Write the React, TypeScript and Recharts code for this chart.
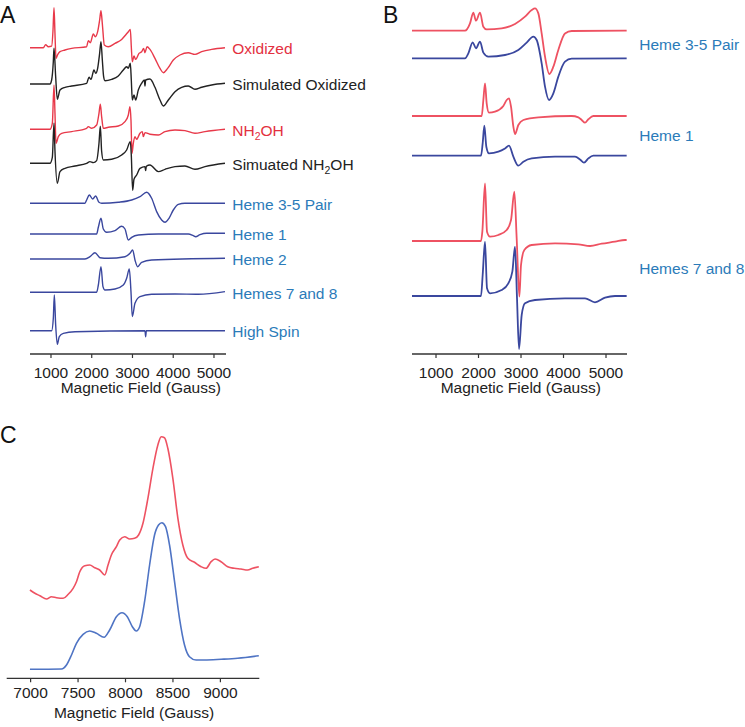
import React from 'react';
import { LineChart, Line, XAxis, YAxis } from 'recharts';

type Pt = [number, number];

const FONT = '"Liberation Sans", Arial, Helvetica, sans-serif';

// ---------- tick labels ----------
const ticksAB = [1000, 2000, 3000, 4000, 5000];
const ticksC = [7000, 7500, 8000, 8500, 9000];
const axisTitle = 'Magnetic Field (Gauss)';

// ---------- Panel A spectra (field G, intensity relative to baseline) ----------
const oxidized: Pt[] = [[485,0],[812,0],[869,3],[934,1],[1016,1.5],[1049,17],[1074,40],[1098,14],[1123,-10.7],[1164,-7],[1221,-4],[1344,-2.3],[1507,-0.7],[1875,1],[1916,7],[1965,5],[2039,13.7],[2088,11],[2145,16],[2194,27.7],[2227,37],[2260,24],[2309,2.7],[2407,1],[2571,4.3],[2734,8.3],[2832,12.7],[2898,16],[2947,18.3],[2971,1],[2996,-14],[3037,-8.3],[3078,-11.7],[3160,-5.7],[3225,-4],[3274,-0.7],[3307,-5],[3356,1],[3429,-1.7],[3552,-10.7],[3675,-20.7],[3757,-25],[3863,-20.7],[4002,-12.3],[4166,-7.3],[4370,-5],[4534,-6.7],[4698,-4],[4943,-1.7],[5270,0]];
const simOxidized: Pt[] = [[485,0],[975,0],[1016,4],[1057,22.3],[1074,35.7],[1115,7.3],[1155,-15.3],[1221,-6],[1344,-3.3],[1507,-2],[1875,0.7],[1933,6.7],[1982,4.7],[2055,14],[2096,10.7],[2145,15.7],[2194,30.7],[2227,42.3],[2260,24],[2292,7.3],[2325,3.3],[2489,4.7],[2652,8],[2775,14],[2857,17.3],[2898,15.7],[2947,20.7],[2971,4],[2996,-16],[3037,-11],[3078,-16],[3143,-6],[3225,0.7],[3290,4],[3307,-2],[3323,4],[3429,5],[3552,-3.3],[3675,-16],[3757,-22],[3880,-16],[4043,-7.7],[4207,-3.3],[4370,-2],[4534,-5.3],[4698,-3.3],[4943,-1],[5270,0.7]];
const nh2oh: Pt[] = [[485,0],[975,0],[1033,6],[1074,44],[1098,16],[1123,-14],[1180,-7.3],[1262,-4],[1507,-2.3],[1875,1],[1916,2.7],[1998,1],[2121,4.3],[2178,16],[2211,25],[2243,12.7],[2284,1],[2407,2],[2652,3.3],[2816,7.7],[2898,14.3],[2939,22.7],[2963,9.3],[2988,-24],[3020,-14],[3061,-7.3],[3102,-10],[3184,-4],[3241,-2.3],[3266,-7.3],[3307,-3.3],[3429,-5],[3634,-5.7],[3798,-2.3],[4043,-0.7],[4288,-1.3],[4534,-4],[4779,-2.3],[5270,0]];
const simNh2oh: Pt[] = [[485,0],[975,0],[1033,6],[1074,40],[1098,12],[1155,-20],[1221,-8.3],[1344,-5],[1589,-2.7],[1875,0],[1957,1.7],[2039,0.7],[2121,2.7],[2178,20],[2211,37],[2243,12],[2284,3.3],[2489,4],[2734,8.3],[2857,13.3],[2947,21.7],[2971,8],[3004,-27],[3037,-16],[3102,-11.7],[3184,-5],[3307,-3.3],[3323,-7.3],[3340,-3],[3429,-1.7],[3634,-8.3],[3798,-6],[4043,-3.3],[4288,-2.7],[4534,-6],[4779,-3.3],[5270,0]];
const heme35A: Pt[] = [[485,0],[1834,0],[1875,3.3],[1941,8.3],[2023,4.3],[2096,7.3],[2178,1],[2243,0],[2652,1],[2980,3.3],[3184,6.7],[3348,11],[3470,5],[3593,-8.3],[3716,-16.7],[3798,-19],[3896,-15],[4002,-6.7],[4125,-1],[4288,0],[5270,0]];
const heme1A: Pt[] = [[485,0],[2121,0],[2162,6.7],[2227,15.7],[2284,5],[2366,1.7],[2571,3.3],[2734,7.7],[2816,5],[2898,-6],[2980,-3.3],[3143,-1],[3634,0],[4370,0],[4493,-1.7],[4550,-2.7],[4657,-0.7],[4820,0.7],[5270,0.7]];
const heme2A: Pt[] = [[485,0],[1834,0],[1957,2.3],[2080,6.3],[2202,1.3],[2407,0.7],[2816,2.3],[2939,5.7],[3004,9],[3061,-1],[3127,-7.7],[3225,-3.3],[3470,-1],[5270,0.7]];
const hemes78A: Pt[] = [[485,0],[2121,0],[2162,7.3],[2227,25.7],[2276,5.7],[2325,2.3],[2571,3.3],[2775,7.3],[2857,14],[2922,23.3],[2963,0.7],[2996,-24.3],[3061,-11],[3184,-4.3],[3470,-2],[4043,-1.7],[4616,-2],[5270,0.7]];
const highSpin: Pt[] = [[485,0],[1016,0],[1057,12.3],[1082,35.7],[1115,5.7],[1155,-13.7],[1204,-6],[1303,-2.7],[1589,-1],[3307,0],[3323,-6],[3340,0],[5270,0]];

const namesA = ['Oxidized', 'Simulated Oxidized', 'NH2OH', 'Simuated NH2OH', 'Heme 3-5 Pair', 'Heme 1', 'Heme 2', 'Hemes 7 and 8', 'High Spin'];
const offsetsA = [306.3, 270, 224.7, 190.7, 150.7, 120, 95, 61.7, 23.3];

// ---------- Panel B spectra ----------
const heme35Exp: Pt[] = [[428,0],[1682,0],[1800,7.3],[1878,18],[1941,10],[2035,18],[2114,4],[2192,1.3],[2545,2.3],[2859,6.7],[3094,14],[3251,20.7],[3329,22.3],[3408,17.3],[3486,-2.7],[3565,-26],[3667,-43.3],[3761,-36],[3878,-19.3],[4035,-2.7],[4192,-0.3],[5486,0]];
const heme35Sim: Pt[] = [[428,0],[1682,0],[1761,5],[1863,16],[1941,10],[2035,16.7],[2114,5.7],[2231,1.7],[2624,3.3],[2937,8.3],[3133,15.7],[3290,21.7],[3369,18.3],[3486,-5],[3565,-28.3],[3659,-41.7],[3761,-35],[3878,-18.3],[4035,-3.3],[4192,-0.3],[5486,0]];
const heme1Exp: Pt[] = [[428,0],[2075,0],[2114,16],[2153,32.7],[2192,12.7],[2247,3.3],[2388,4.3],[2584,10],[2663,16],[2718,17.7],[2765,9.3],[2820,-10.7],[2859,-18],[2937,-9],[3055,-4],[3408,-1.3],[4192,0],[4349,-1.3],[4428,-4],[4506,-6.7],[4584,-3.3],[4702,0],[5486,0]];
const heme1Sim: Pt[] = [[428,0],[2059,0],[2098,12.3],[2137,30],[2184,9],[2247,2.3],[2467,4],[2624,7.3],[2718,10],[2820,-1],[2937,-10],[3055,-6],[3251,-2.7],[3800,-1],[4271,-1],[4388,-3.7],[4482,-7],[4584,-2.7],[4702,0],[5486,0]];
const hemes78Exp: Pt[] = [[428,0],[2059,0],[2090,9.3],[2153,57.7],[2200,9.3],[2271,4.3],[2467,6],[2663,11],[2765,21],[2843,49.3],[2898,2.7],[2961,-55.7],[3000,-24],[3078,-9],[3251,-4],[3800,-2.3],[4349,-3.3],[4624,-5],[4898,-2.7],[5212,-0.7],[5447,1],[5486,1]];
const hemes78Sim: Pt[] = [[428,0],[2059,0],[2098,21],[2153,54.3],[2200,7.7],[2271,2.7],[2545,6],[2702,12.7],[2796,24.3],[2859,49.3],[2906,-2.3],[2953,-53],[3016,-19],[3094,-7.3],[3329,-4],[4035,-2.3],[4506,-2.3],[4741,-6.3],[4977,-1.7],[5212,0],[5486,0]];

const namesB = ['Heme 3-5 Pair', 'Heme 1', 'Hemes 7 and 8'];
const offsetsB = [323.3, 295.7, 238, 198.3, 113, 58];

// ---------- Panel C spectra ----------
const highFieldExp: Pt[] = [[6993,0.3],[7045,-3],[7098,-5.4],[7168,-8.7],[7220,-6.4],[7273,-7.4],[7343,-8],[7396,-4],[7448,2],[7483,8.6],[7518,18.6],[7571,24.6],[7623,25.3],[7676,22.6],[7728,20.3],[7781,15.3],[7816,25.3],[7851,35.3],[7904,43.6],[7939,50.3],[7991,53.6],[8044,51.3],[8096,52],[8138,55.3],[8184,67],[8236,92],[8289,122],[8341,145.3],[8376,153.6],[8411,152.6],[8446,142],[8499,112],[8552,72],[8604,45.3],[8657,32],[8727,28],[8797,23.6],[8849,22],[8902,28.6],[8944,31.3],[9007,28.6],[9077,23.6],[9147,22],[9217,21.3],[9287,20.3],[9340,22],[9405,23.6]];
const highFieldSim: Pt[] = [[6993,0],[7325,0.3],[7378,4.3],[7431,14.3],[7483,26],[7553,35],[7623,38.3],[7693,36],[7774,32],[7833,39.3],[7904,52.6],[7963,56.6],[8019,52.6],[8072,42.6],[8114,38.3],[8149,42.6],[8201,67.6],[8254,104.3],[8306,134.3],[8348,144.3],[8383,146.6],[8422,142.6],[8464,124.3],[8517,87.6],[8569,51],[8622,24.3],[8674,12.6],[8744,9.3],[8832,9.3],[9007,10],[9182,11],[9405,13.6]];
const offsetsC = [88, 9];

// ---------- styling ----------
const RED_A = '#e8394a';
const RED_B = '#ee5262';
const BLACK = '#222222';
const NAVY = '#3a479e';
const BLUE_C = '#4f74c4';
const LABEL_BLUE = '#2b7bb9';
const LABEL_RED = '#e3303f';

type Series = { pts: Pt[]; off: number; color: string; w: number };

const toRows = (pts: Pt[], off: number) => pts.map(([x, v]) => ({ x, y: v + off }));

function Panel(props: {
  left: number; top: number; width: number; height: number;
  margin: { top: number; right: number; bottom: number; left: number };
  xDomain: [number, number]; ticks: number[]; yMax: number; axisH: number; tickMargin: number;
  series: Series[];
}) {
  const { left, top, width, height, margin, xDomain, ticks, yMax, axisH, tickMargin, series } = props;
  return (
    <div style={{ position: 'absolute', left, top, width, height }}>
      <LineChart width={width} height={height} margin={margin}>
        <XAxis
          type="number"
          dataKey="x"
          domain={xDomain}
          ticks={ticks}
          interval={0}
          allowDataOverflow
          height={axisH}
          tickSize={4}
          tickMargin={tickMargin}
          axisLine={{ stroke: '#333', strokeWidth: 1.3 }}
          tickLine={{ stroke: '#333', strokeWidth: 1.2 }}
          tick={{ fill: '#222', fontSize: 15.5, fontFamily: FONT }}
        />
        <YAxis hide type="number" domain={[0, yMax]} allowDataOverflow />
        {series.map((s, i) => (
          <Line
            key={i}
            data={toRows(s.pts, s.off)}
            dataKey="y"
            type="monotone"
            stroke={s.color}
            strokeWidth={s.w}
            dot={false}
            activeDot={false}
            isAnimationActive={false}
          />
        ))}
      </LineChart>
    </div>
  );
}

function Name({ x, y, text, color }: { x: number; y: number; text: string; color: string }) {
  const i = text.indexOf('NH2OH');
  if (i >= 0) {
    return (
      <text x={x} y={y} fill={color} fontSize={15.5} fontFamily={FONT}>
        <tspan>{text.slice(0, i) + 'NH'}</tspan>
        <tspan fontSize={10.5} dy={4}>2</tspan>
        <tspan dy={-4}>OH</tspan>
      </text>
    );
  }
  return (
    <text x={x} y={y} fill={color} fontSize={15.5} fontFamily={FONT}>
      {text}
    </text>
  );
}

export default function App() {
  const colorsA = [RED_A, BLACK, RED_A, BLACK, NAVY, NAVY, NAVY, NAVY, NAVY];
  const labelColorsA = [LABEL_RED, BLACK, LABEL_RED, BLACK, LABEL_BLUE, LABEL_BLUE, LABEL_BLUE, LABEL_BLUE, LABEL_BLUE];
  const spectraA = [oxidized, simOxidized, nh2oh, simNh2oh, heme35A, heme1A, heme2A, hemes78A, highSpin];
  const seriesA: Series[] = spectraA.map((pts, i) => ({ pts, off: offsetsA[i], color: colorsA[i], w: 1.4 }));

  const spectraB = [heme35Exp, heme35Sim, heme1Exp, heme1Sim, hemes78Exp, hemes78Sim];
  const seriesB: Series[] = spectraB.map((pts, i) => ({ pts, off: offsetsB[i], color: i % 2 === 0 ? RED_B : NAVY, w: 1.8 }));

  const seriesC: Series[] = [
    { pts: highFieldExp, off: offsetsC[0], color: RED_B, w: 1.6 },
    { pts: highFieldSim, off: offsetsC[1], color: BLUE_C, w: 1.6 },
  ];

  const plotBottomAB = 354;

  return (
    <div style={{ position: 'absolute', left: 0, top: 0, width: 745, height: 727, background: '#fff', overflow: 'hidden' }}>
      <Panel
        left={0} top={0} width={380} height={400}
        margin={{ top: 0, right: 154, bottom: 0, left: 30 }}
        xDomain={[485, 5295]} ticks={ticksAB} yMax={354} axisH={46} tickMargin={8.5}
        series={seriesA}
      />
      <Panel
        left={370} top={0} width={375} height={400}
        margin={{ top: 0, right: 118, bottom: 0, left: 42 }}
        xDomain={[435, 5494]} ticks={ticksAB} yMax={354} axisH={46} tickMargin={8.5}
        series={seriesB}
      />
      <Panel
        left={0} top={420} width={300} height={307}
        margin={{ top: 0, right: 40.7, bottom: 0, left: 6.7 }}
        xDomain={[6748, 9410]} ticks={ticksC} yMax={258.3} axisH={48.7} tickMargin={5}
        series={seriesC}
      />
      <svg width={745} height={727} style={{ position: 'absolute', left: 0, top: 0, pointerEvents: 'none' }}>
        <text x={0} y={23.3} fontSize={23} fontFamily={FONT} fill="#111">A</text>
        <text x={383} y={23.3} fontSize={23} fontFamily={FONT} fill="#111">B</text>
        <text x={0} y={443.3} fontSize={23} fontFamily={FONT} fill="#111">C</text>
        {namesA.map((n, i) => (
          <Name key={n} x={232.3} y={plotBottomAB - offsetsA[i] + 6.3} text={n} color={labelColorsA[i]} />
        ))}
        {namesB.map((n, i) => (
          <Name key={n} x={639.3} y={plotBottomAB - (offsetsB[2 * i] + offsetsB[2 * i + 1]) / 2 + 5.6} text={n} color={LABEL_BLUE} />
        ))}
        <text x={140.8} y={393.3} textAnchor="middle" fontSize={15.5} fontFamily={FONT} fill="#222">{axisTitle}</text>
        <text x={520.8} y={393} textAnchor="middle" fontSize={15.5} fontFamily={FONT} fill="#222">{axisTitle}</text>
        <text x={134} y={718} textAnchor="middle" fontSize={15.5} fontFamily={FONT} fill="#222">{axisTitle}</text>
      </svg>
    </div>
  );
}
